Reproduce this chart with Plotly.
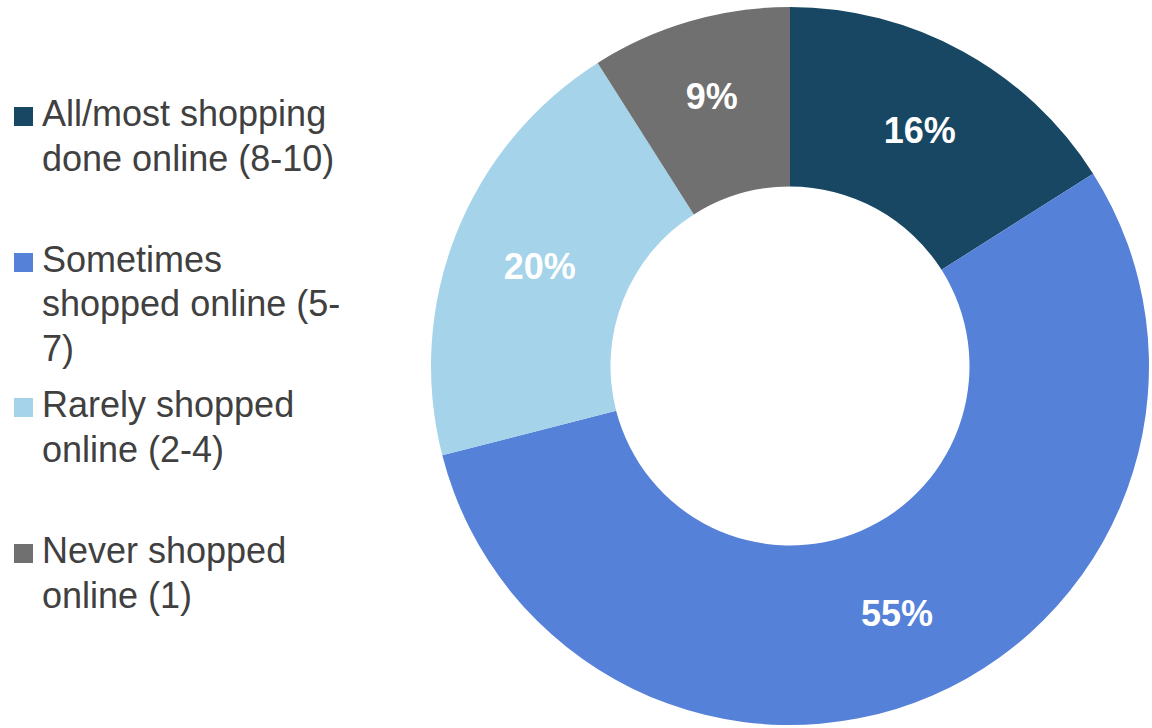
import plotly.graph_objects as go

# Share of respondents by how much of their shopping was done online
categories = [
    "All/most shopping done online (8-10)",
    "Sometimes shopped online (5-7)",
    "Rarely shopped online (2-4)",
    "Never shopped online (1)",
]
legend_labels = [
    "All/most shopping<br>done online (8-10)",
    "Sometimes<br>shopped online (5-<br>7)",
    "Rarely shopped<br>online (2-4)",
    "Never shopped<br>online (1)",
]
shares = [16, 55, 20, 9]
colors = ["#174763", "#5681D9", "#A4D3EA", "#707070"]

W, H = 1152, 728
FONT = "Liberation Sans, Arial, sans-serif"

# donut geometry in pixels
cx, cy, r = 790, 366, 359

fig = go.Figure(
    go.Pie(
        labels=categories,
        values=shares,
        hole=0.5,
        sort=False,
        direction="clockwise",
        rotation=0,
        marker=dict(colors=colors, line=dict(width=0)),
        texttemplate="%{value}%",
        textposition="inside",
        insidetextorientation="horizontal",
        textfont=dict(family=FONT, size=36, color="white", weight="bold"),
        domain=dict(
            x=[(cx - r) / W, (cx + r) / W],
            y=[1 - (cy + r) / H, 1 - (cy - r) / H],
        ),
        showlegend=False,
        hoverinfo="label+percent",
    )
)

# Hand-built legend: square swatch + wrapped label, evenly spaced rows
row_baseline = [126, 272, 417, 563]   # first-line baseline of each entry (px)
line_gap = 44.5
sq = 19
legend_size = 36
shapes, annotations = [], []
for base, col, txt in zip(row_baseline, colors, legend_labels):
    shapes.append(dict(
        type="rect", xref="paper", yref="paper",
        x0=14 / W, x1=(14 + sq) / W,
        y0=1 - base / H, y1=1 - (base - sq) / H,
        fillcolor=col, line=dict(width=0),
    ))
    for i, line in enumerate(txt.split("<br>")):
        top = base + i * line_gap - 35
        annotations.append(dict(
            xref="paper", yref="paper",
            x=40 / W, y=1 - top / H,
            xanchor="left", yanchor="top", align="left",
            text=line, showarrow=False,
            font=dict(family=FONT, size=legend_size, color="#404040"),
        ))

fig.update_layout(
    width=W, height=H,
    margin=dict(l=0, r=0, t=0, b=0),
    paper_bgcolor="white",
    plot_bgcolor="white",
    shapes=shapes,
    annotations=annotations,
)

fig.write_html("out.html")
